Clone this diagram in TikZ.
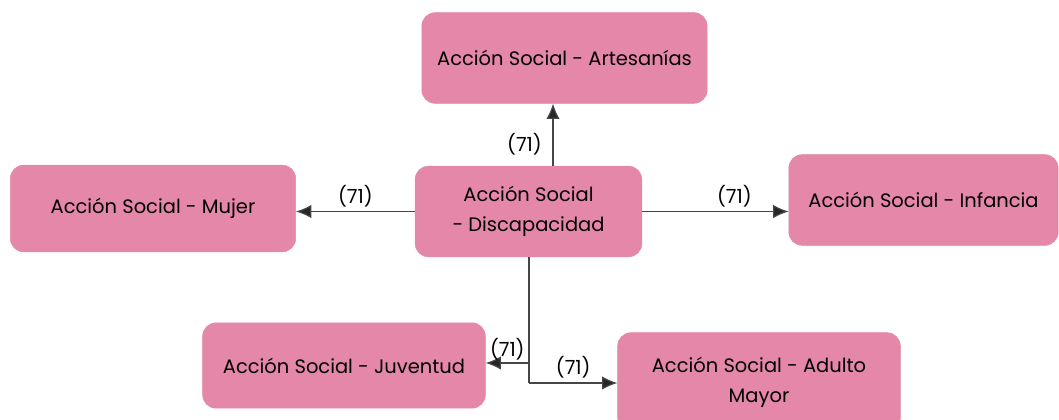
\documentclass[tikz,border=0pt]{standalone}
\usepackage{fontspec}
\setmainfont{Poppins}
\usetikzlibrary{arrows.meta}
\definecolor{rosa}{RGB}{228,135,168}
\definecolor{linea}{RGB}{70,70,70}
\tikzset{
    caja/.style={rectangle, rounded corners=10pt, fill=rosa, draw=rosa, align=center,
        font=\fontsize{14.6}{22.5}\selectfont, text=black, inner sep=0pt},
    flecha/.style={->, draw=linea, line width=0.9pt},
    etiqueta/.style={font=\fontsize{14.6}{17}\selectfont, text=black, inner sep=2pt}
}
\begin{document}
\begin{tikzpicture}[x=0.75pt, y=-0.75pt, >={Latex[length=11.5pt,width=10pt,fill=black!85]}]
        % Margini della figura
        \useasboundingbox (0,0) rectangle (1059,419);

        % Nodo centrale
        \node[caja, minimum width=170pt, minimum height=68pt] (disc) at (528.5,211.5) {Acción Social\\- Discapacidad};

        % Nodi periferici
        \node[caja, minimum width=214pt, minimum height=68pt] (art) at (564.5,58) {Acción Social - Artesanías};
        \node[caja, minimum width=214pt, minimum height=65pt] (mujer) at (153,208.5) {Acción Social - Mujer};
        \node[caja, minimum width=202pt, minimum height=68pt] (inf) at (923.5,200) {Acción Social - Infancia};
        \node[caja, minimum width=212pt, minimum height=64pt] (juv) at (344,365.5) {Acción Social - Juventud};
        \node[caja, minimum width=212pt, minimum height=74pt] (adulto) at (759,382) {Acción Social - Adulto\\Mayor};

        % Punti di appoggio per i connettori
        \coordinate (su) at (553,0);
        \coordinate (tronco) at (529,383);

        % Connettori superiori e laterali
        \draw[flecha] (disc.north -| su) -- (art.south -| su) node[etiqueta, pos=0.35, left=6pt] {(71)};
        \draw[flecha] (disc.west) -- (mujer.east |- disc.west) node[etiqueta, pos=0.5, above=1pt] {(71)};
        \draw[flecha] (disc.east) -- (inf.west |- disc.east) node[etiqueta, pos=0.63, above=1pt] {(71)};

        % Connettori inferiori
        \draw[draw=linea, line width=0.9pt] (disc.south -| tronco) -- (tronco);
        \draw[flecha] (tronco |- 0,363) -- (juv.east |- 0,363) node[etiqueta, midway, above=0pt] {(71)};
        \draw[flecha] (tronco) -- (adulto.west |- tronco) node[etiqueta, midway, above=1pt] {(71)};

    \end{tikzpicture}
\end{document}
